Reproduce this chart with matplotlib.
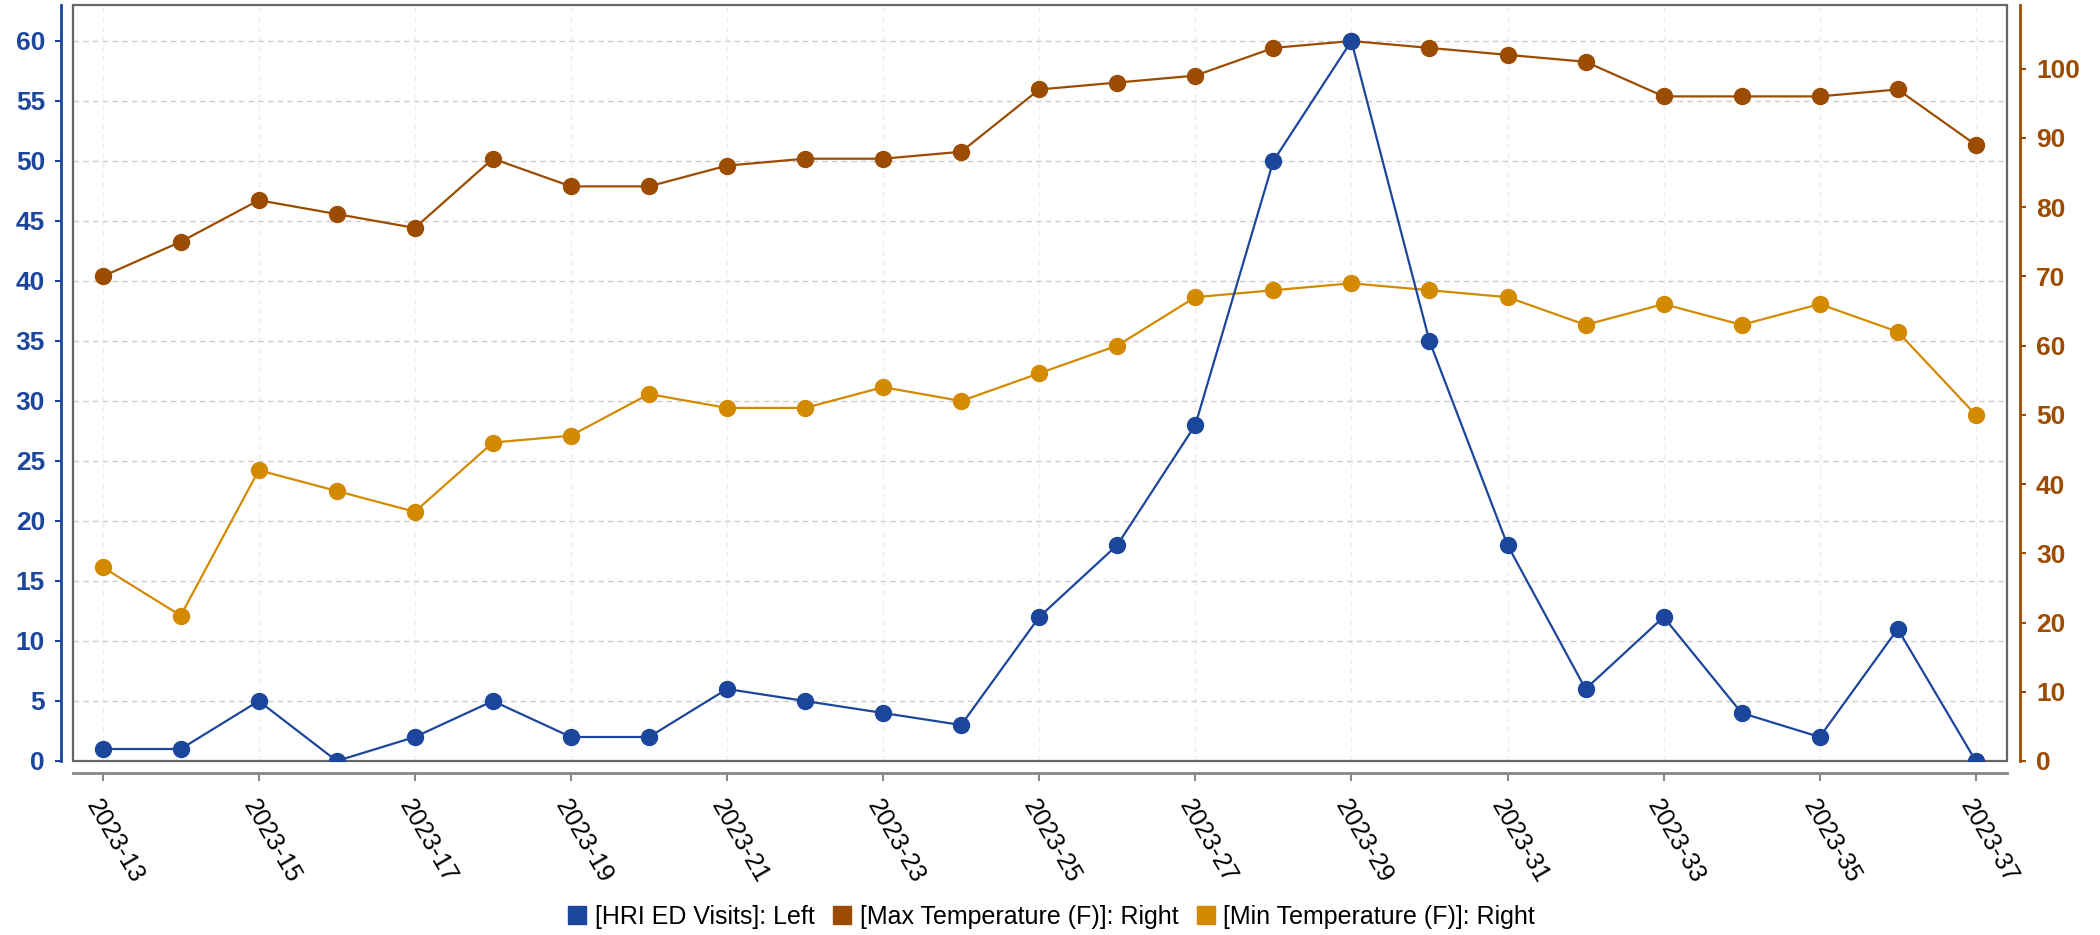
import matplotlib
matplotlib.use("Agg")
import matplotlib.pyplot as plt
from matplotlib.patches import Rectangle
from matplotlib.lines import Line2D

weeks = [f"2023-{w}" for w in range(13, 38)]
hri_visits = [1, 1, 5, 0, 2, 5, 2, 2, 6, 5, 4, 3, 12, 18, 28, 50, 60, 35, 18, 6, 12, 4, 2, 11, 0]
max_temp = [70, 75, 81, 79, 77, 87, 83, 83, 86, 87, 87, 88, 97, 98, 99, 103, 104, 103, 102, 101, 96, 96, 96, 97, 89]
min_temp = [28, 21, 42, 39, 36, 46, 47, 53, 51, 51, 54, 52, 56, 60, 67, 68, 69, 68, 67, 63, 66, 63, 66, 62, 50]

BLUE = "#1c469c"
BROWN = "#9c4c00"
GOLD = "#d48a00"

plt.rcParams['font.family'] = ['Liberation Sans', 'DejaVu Sans']

W, H = 2100, 935
fig = plt.figure(figsize=(W / 100, H / 100), dpi=100)
left, right, top, bottom = 73, 2007, 5, 761
ax = fig.add_axes([left / W, 1 - bottom / H, (right - left) / W, (bottom - top) / H])
ax2 = ax.twinx()
ax3 = ax.twinx()
x = list(range(len(weeks)))

ax.set_xlim(-0.38, len(weeks) - 1 + 0.4)
ax.set_ylim(0, 63)
ax2.set_ylim(0, 109.2)
ax3.set_ylim(0, 63)

ax.grid(axis='y', color='#cccccc', linestyle=(0, (4, 3)), linewidth=1.0)
ax.grid(axis='x', color='#eeeeee', linestyle=(0, (4, 3)), linewidth=1.0)
ax.set_axisbelow(True)

for s in ['top', 'right']:
    ax.spines[s].set_visible(False)
ax.spines['left'].set_position(('outward', 12 * 0.72))
ax.spines['left'].set_color(BLUE)
ax.spines['left'].set_linewidth(2)
ax.spines['bottom'].set_position(('outward', 12 * 0.72))
ax.spines['bottom'].set_color('#888888')
ax.spines['bottom'].set_linewidth(2)

frame = Rectangle((0, 0), 1, 1, transform=ax.transAxes, fill=False, edgecolor='#666666', linewidth=1.6, clip_on=False, zorder=10)
ax.add_patch(frame)

for s in ['top', 'left', 'bottom']:
    ax2.spines[s].set_visible(False)
ax2.spines['right'].set_position(('outward', 13 * 0.72))
ax2.spines['right'].set_color(BROWN)
ax2.spines['right'].set_linewidth(2)

ms = 11.5
lw = 1.6
ax2.plot(x, max_temp, color=BROWN, marker='o', markersize=ms, linewidth=lw)
ax2.plot(x, min_temp, color=GOLD, marker='o', markersize=ms, linewidth=lw)
ax3.plot(x, hri_visits, color=BLUE, marker='o', markersize=ms, linewidth=lw)
ax3.axis('off')

# ticks (configured after all axes exist)
ax.set_xticks(x[::2])
ax.set_xticklabels(weeks[::2])
ax.set_yticks(range(0, 61, 5))
ax2.set_yticks(range(0, 101, 10))
ax.tick_params(axis='x', length=6, width=1.5, color='#888888', pad=10, labelsize=18,
               labelcolor='black', labelrotation=-60)
ax.tick_params(axis='y', length=4.5, width=1.5, color=BLUE, labelcolor=BLUE, labelsize=19, pad=7)
ax2.tick_params(axis='y', length=4.5, width=1.5, color=BROWN, labelcolor=BROWN, labelsize=19, pad=7)

handles = [
    Line2D([], [], linestyle='none', marker='s', markersize=13, color=BLUE),
    Line2D([], [], linestyle='none', marker='s', markersize=13, color=BROWN),
    Line2D([], [], linestyle='none', marker='s', markersize=13, color=GOLD),
]
labels = ["[HRI ED Visits]: Left", "[Max Temperature (F)]: Right", "[Min Temperature (F)]: Right"]
fig.legend(handles, labels, loc='center', bbox_to_anchor=(0.5, 1 - 917 / H), ncol=3, frameon=False,
           fontsize=18, handletextpad=0.2, columnspacing=0.6, handlelength=1.0)

fig.canvas.draw()
for t in ax.get_xticklabels():
    t.set_rotation(-60)
    t.set_ha('left')
    t.set_va('top')
    t.set_rotation_mode('anchor')
for t in ax.get_yticklabels() + ax2.get_yticklabels():
    t.set_fontweight('bold')

fig.savefig("out.png", dpi=100)
